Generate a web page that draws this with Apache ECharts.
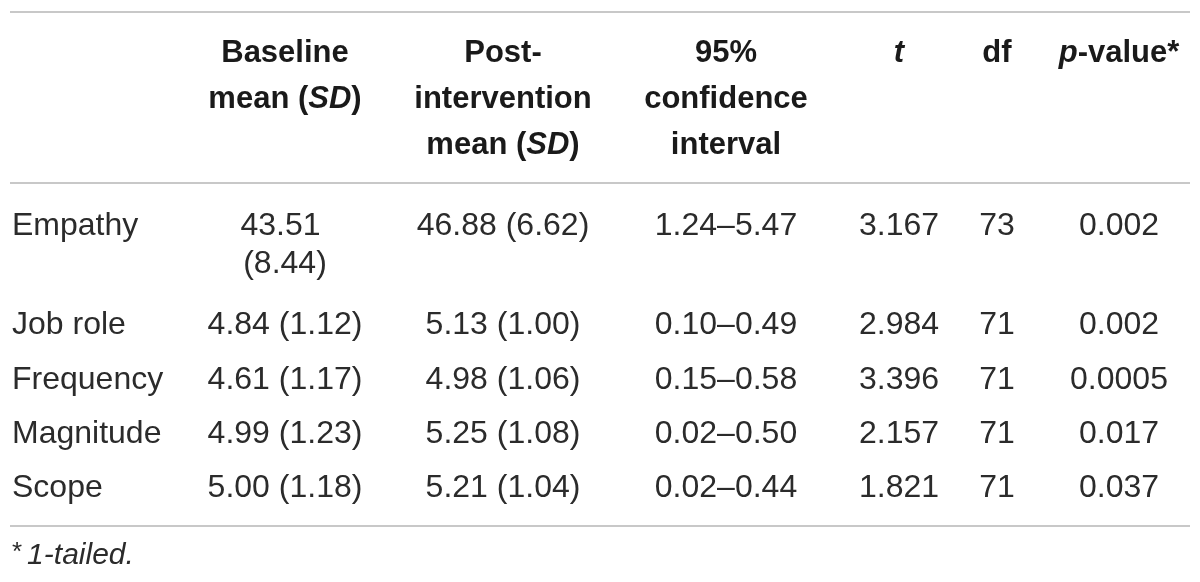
<!DOCTYPE html>
<html><head><meta charset="utf-8">
<script src="https://cdn.jsdelivr.net/npm/echarts@6/dist/echarts.min.js"></script>
<style>html,body{margin:0;padding:0;background:#fff}#c{width:1200px;height:582px}</style>
</head><body><div id="c"></div>
<script>
// ---- data ----
const categories = ['Empathy', 'Job role', 'Frequency', 'Magnitude', 'Scope'];
const baselineMean = [43.51, 4.84, 4.61, 4.99, 5.00];
const baselineSD = [8.44, 1.12, 1.17, 1.23, 1.18];
const postMean = [46.88, 5.13, 4.98, 5.25, 5.21];
const postSD = [6.62, 1.00, 1.06, 1.08, 1.04];
const ciLow = [1.24, 0.10, 0.15, 0.02, 0.02];
const ciHigh = [5.47, 0.49, 0.58, 0.50, 0.44];
const tValues = [3.167, 2.984, 3.396, 2.157, 1.821];
const dfValues = [73, 71, 71, 71, 71];
const pValues = ['0.002', '0.002', '0.0005', '0.017', '0.037'];
const headers = [
  '{b|Baseline}\n{b|mean (}{bi|SD}{b|)}',
  '{b|Post-}\n{b|intervention}\n{b|mean (}{bi|SD}{b|)}',
  '{b|95%}\n{b|confidence}\n{b|interval}',
  '{bi|t}',
  '{b|df}',
  '{bi|p}{b|-value*}'
];
const footnote = '{s|*}{i|1-tailed.}';

// ---- layout (pixel scale of the hidden axes) ----
const colX = [12, 285, 503, 726, 899, 997, 1119];
const rowY = [226, 325, 380, 434, 488];
const headerTop = 30;
const ruleY = [12, 183, 526];
const ruleX = [10, 1190];
const footY = 556;
const FONT = '"Liberation Sans", Arial, Helvetica, sans-serif';
const BODY = 32, HEAD = 31, BODY_LH = 38, HEAD_LH = 46;

const f2 = v => v.toFixed(2);
const cells = [];
const cell = (x, y, text, align, extra) => cells.push({
  value: [x, y],
  label: Object.assign({ formatter: text, align: align }, extra || {})
});

headers.forEach((h, j) => cell(colX[j + 1], headerTop, h, 'center', { lineHeight: HEAD_LH }));
categories.forEach((c, i) => {
  const top = rowY[i] - BODY_LH / 2;
  cell(colX[0], top, c, 'left');
  cell(colX[1], top, f2(baselineMean[i]) + ' (' + f2(baselineSD[i]) + ')', 'center', { width: 170, overflow: 'break' });
  cell(colX[2], top, f2(postMean[i]) + ' (' + f2(postSD[i]) + ')', 'center');
  cell(colX[3], top, f2(ciLow[i]) + '\u2013' + f2(ciHigh[i]), 'center');
  cell(colX[4], top, tValues[i].toFixed(3), 'center');
  cell(colX[5], top, String(dfValues[i]), 'center');
  cell(colX[6], top, pValues[i], 'center');
});
cell(colX[0], footY - 17, footnote, 'left', { lineHeight: 34 });

const chart = echarts.init(document.getElementById('c'), null, { renderer: 'canvas' });
chart.setOption({
  animation: false,
  backgroundColor: '#ffffff',
  grid: { left: 0, right: 0, top: 0, bottom: 0 },
  xAxis: { type: 'value', min: 0, max: 1200, show: false },
  yAxis: { type: 'value', min: 0, max: 582, inverse: true, show: false },
  series: [{
    type: 'scatter',
    symbolSize: 1,
    itemStyle: { color: 'rgba(255,255,255,0)', opacity: 1 },
    silent: true,
    label: {
      show: true,
      position: 'inside',
      verticalAlign: 'top',
      fontFamily: FONT,
      fontSize: BODY,
      lineHeight: BODY_LH,
      color: '#2b2b2b',
      textBorderWidth: 0,
      rich: {
        b: { fontFamily: FONT, fontSize: HEAD, fontWeight: 'bold', color: '#1a1a1a', lineHeight: HEAD_LH },
        bi: { fontFamily: FONT, fontSize: HEAD, fontWeight: 'bold', fontStyle: 'italic', color: '#1a1a1a', lineHeight: HEAD_LH },
        s: { fontFamily: FONT, fontSize: 26, color: '#2b2b2b', padding: [0, 5, 6, 0], lineHeight: 34 },
        i: { fontFamily: FONT, fontSize: 30, fontStyle: 'italic', color: '#2b2b2b', lineHeight: 34 }
      }
    },
    data: cells,
    markLine: {
      silent: true,
      symbol: ['none', 'none'],
      label: { show: false },
      lineStyle: { color: '#c8c8c8', width: 2, type: 'solid', opacity: 1 },
      data: ruleY.map(y => [{ coord: [ruleX[0], y] }, { coord: [ruleX[1], y] }])
    }
  }]
});
</script>
</body></html>
